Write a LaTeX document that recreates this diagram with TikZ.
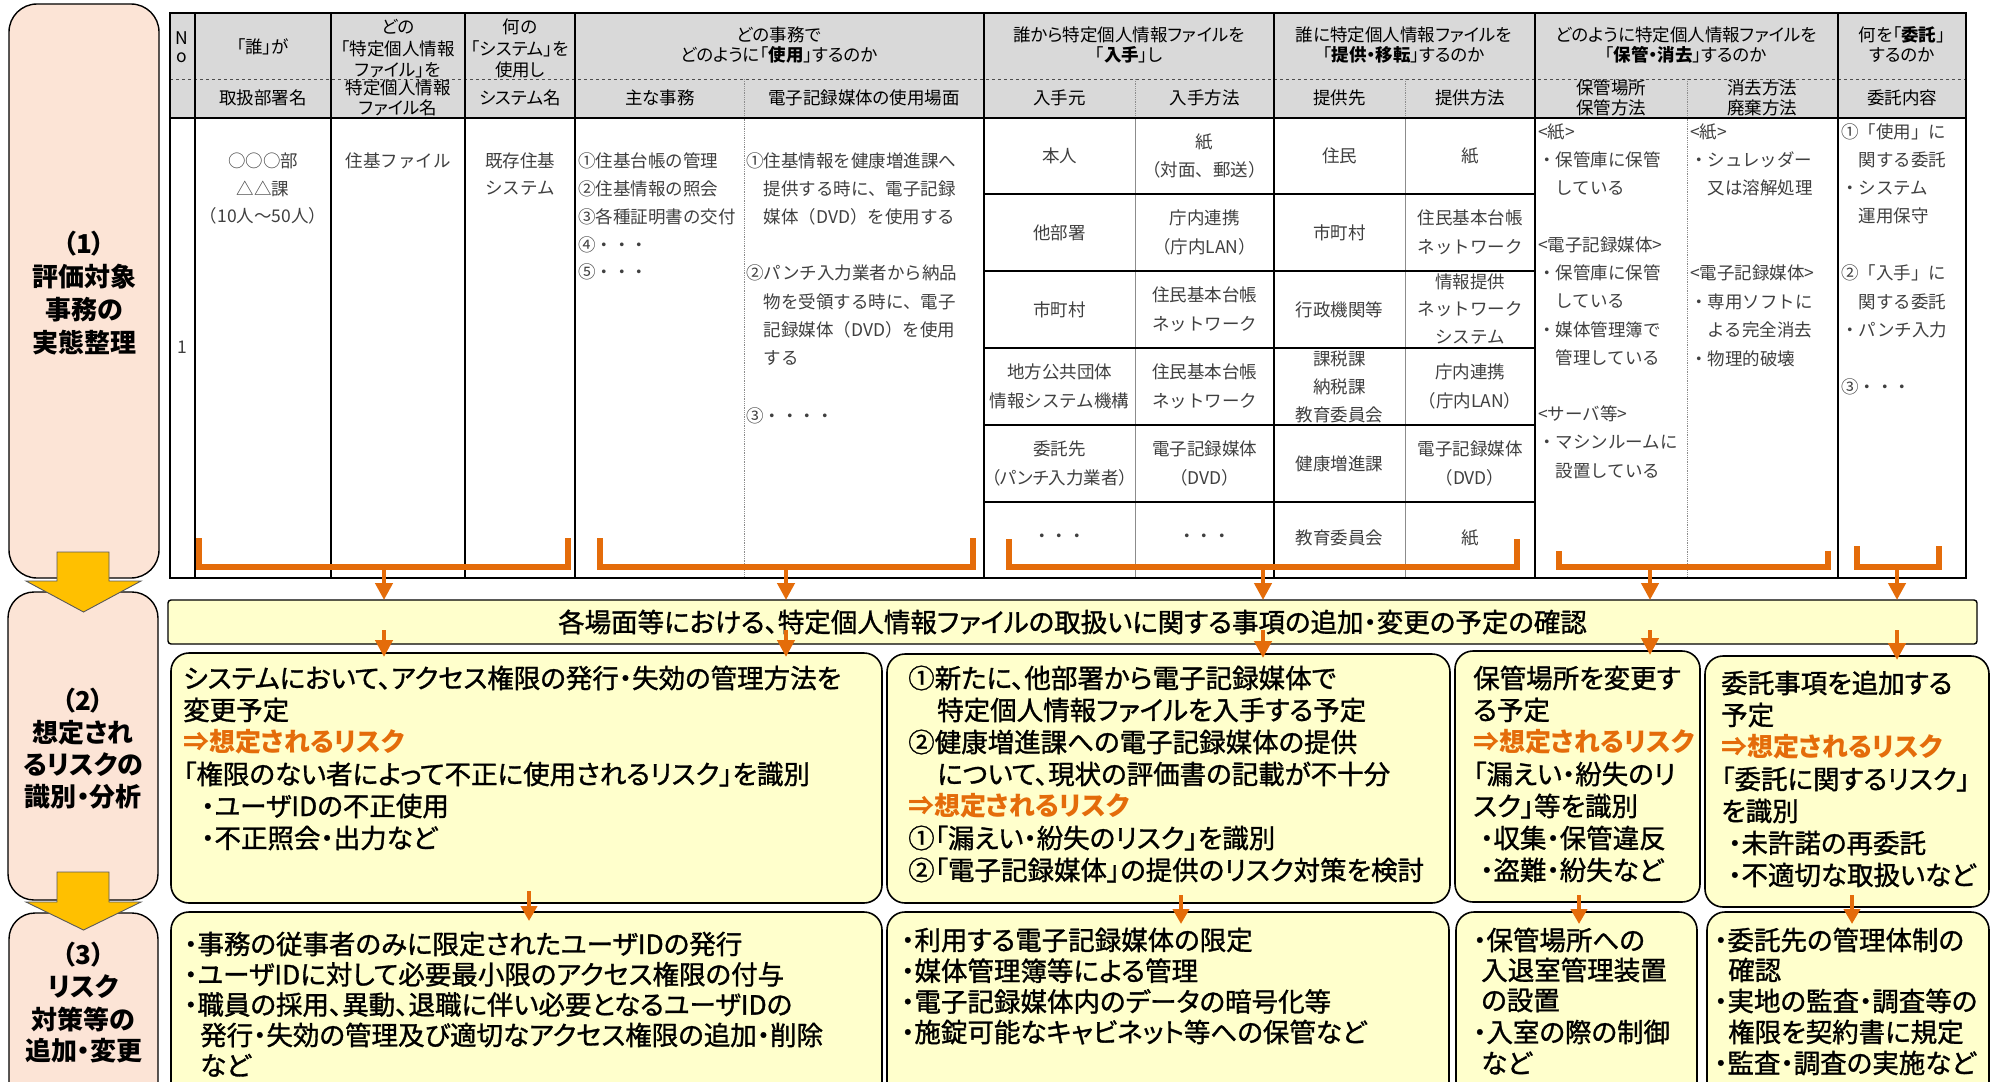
\documentclass[tikz,border=0pt]{standalone}
\usepackage{fontspec}
\setmainfont{Noto Sans CJK JP}
\newfontfamily\pfont[RawFeature=+palt]{Noto Sans CJK JP}
\newfontfamily\mfont[RawFeature=+palt,FakeBold=1.2]{Noto Sans CJK JP}
\usetikzlibrary{arrows.meta}
\definecolor{peach}{HTML}{FCE4D6}
\definecolor{lyel}{HTML}{FFFFCC}
\definecolor{org}{HTML}{E46C0A}
\definecolor{ayel}{HTML}{FFC000}
\definecolor{hgray}{HTML}{D9D9D9}
\newcommand\tlines[6]{%
  \foreach \mytext [count=\myi from 0] in {#6}
    \node[#1] (#2\myi) at (#3,{#4+#5*\myi}) {\mytext};}
\tikzset{
 tcell/.style={inner sep=0pt, font=\fontsize{17.5}{20}\selectfont, text=black!75},
 lcell/.style={tcell, anchor=west},
 hd/.style={inner sep=0pt, font=\pfont\fontsize{17.5}{20}\selectfont, text=black},
 btxt/.style={inner sep=0pt, anchor=west, font=\mfont\fontsize{26.5}{28}\selectfont, text=black},
 otxt/.style={inner sep=0pt, anchor=west, font=\pfont\bfseries\fontsize{26}{28}\selectfont, text=org},
 ltxt/.style={inner sep=0pt, font=\pfont\bfseries\fontsize{26}{28}\selectfont, text=black},
 lbox/.style={draw=black, line width=1.4pt, fill=peach, rounded corners=28pt, inner sep=0pt, outer sep=0pt},
 rbox/.style={draw=black, line width=1.6pt, fill=lyel, rounded corners=18pt, inner sep=0pt, outer sep=0pt},
 oarr/.style={draw=org, line width=4.5pt, -{Triangle[length=17pt,width=17pt]}},
 oarrs/.style={draw=org, line width=4pt, -{Triangle[length=15pt,width=16pt]}},
 brk/.style={draw=org, line width=5.5pt, line join=miter},
 yarr/.style={fill=ayel, draw=black!65, line width=0.9pt},
 mainln/.style={draw=black, line width=1.5pt},
 subln/.style={draw=black!45, line width=0.8pt, densely dotted},
}
\begin{document}
\begin{tikzpicture}[x=1pt,y=-1pt]
\useasboundingbox (0,0) rectangle (1993,1081);
\clip (0,0) rectangle (1993,1081);
\fill[white] (0,0) rectangle (1993,1081);

% ---------- table ----------
\fill[hgray] (170,13) rectangle (1966,118);
\draw[black!70, line width=0.6pt, dashed] (170,79) -- (1966,79);
\foreach \x in {744,1687} \draw[subln] (\x,79) -- (\x,578);
\foreach \x in {1135,1405} {\draw[subln] (\x,79) -- (\x,118); \draw[black!45, line width=0.7pt] (\x,118) -- (\x,578);}
\foreach \x in {195,331,465,575,984,1274,1535,1838} \draw[mainln] (\x,13) -- (\x,578);
\foreach \y in {194,271,348,425,502} \draw[mainln] (984,\y) -- (1535,\y);
\draw[mainln] (170,118) -- (1966,118);
\draw[black, line width=2.2pt] (170,13) rectangle (1966,578);

% header row 1
\node[hd] (hN) at (182,38) {N};
\node[hd] (ho) at (182,58) {o};
\node[hd] (h1) at (263,47) {「誰」が};
\tlines{hd}{h2}{398}{27}{21.5}{どの,「特定個人情報,ファイル」を}
\tlines{hd}{h3}{520}{27}{21.5}{何の,「システム」を,使用し}
\tlines{hd}{h4}{779}{35}{20}{どの事務で,どのように「\textbf{使用}」するのか}
\tlines{hd}{h5}{1129}{35}{20}{誰から特定個人情報ファイルを,「\textbf{入手}」し}
\tlines{hd}{h6}{1404}{35}{20}{誰に特定個人情報ファイルを,「\textbf{提供・移転}」するのか}
\tlines{hd}{h7}{1686}{35}{20}{どのように特定個人情報ファイルを,「\textbf{保管・消去}」するのか}
\tlines{hd}{h8}{1902}{35}{20}{何を「\textbf{委託}」,するのか}
% header row 2
\node[hd] (k1) at (263,98) {取扱部署名};
\tlines{hd}{k2}{398}{88}{20}{特定個人情報,ファイル名}
\node[hd] (k3) at (520,98) {システム名};
\node[hd] (k4) at (660,98) {主な事務};
\node[hd] (k5) at (864,98) {電子記録媒体の使用場面};
\node[hd] (k6) at (1059.5,98) {入手元};
\node[hd] (k7) at (1204.5,98) {入手方法};
\node[hd] (k8) at (1339.5,98) {提供先};
\node[hd] (k9) at (1470,98) {提供方法};
\tlines{hd}{k10}{1611}{88}{20}{保管場所,保管方法}
\tlines{hd}{k11}{1762}{88}{20}{消去方法,廃棄方法}
\node[hd] (k12) at (1902,98) {委託内容};

% body
\node[tcell] (n1) at (182,347) {1};
\tlines{tcell}{c1}{263}{161}{27.5}{○○○部,△△課,（10人～50人）}
\node[tcell] (c2) at (398,161) {住基ファイル};
\tlines{tcell}{c3}{520}{161}{27.5}{既存住基,システム}
\tlines{lcell}{c4}{578}{161}{27.8}{①住基台帳の管理,②住基情報の照会,③各種証明書の交付,④・・・,⑤・・・}
\tlines{lcell}{c5a}{746}{161}{27.8}{①住基情報を健康増進課へ,　提供する時に、電子記録,　媒体（DVD）を使用する}
\tlines{lcell}{c5b}{746}{273}{28.5}{②パンチ入力業者から納品,　物を受領する時に、電子,　記録媒体（DVD）を使用,　する}
\node[lcell] (c5c) at (746,416) {③・・・・};

\node[tcell] (ia1) at (1059.5,156) {本人};
\node[tcell] (ia2) at (1059.5,232.5) {他部署};
\node[tcell] (ia3) at (1059.5,309.5) {市町村};
\tlines{tcell}{ia4}{1059.5}{372.25}{28.5}{地方公共団体,情報システム機構}
\tlines{tcell}{ia5}{1059.5}{449.25}{28.5}{委託先,{\pfont （パンチ入力業者）}}
\node[tcell] (ia6) at (1059.5,538) {・・・};

\tlines{tcell}{ib1}{1204.5}{141.75}{28.5}{紙,（対面、郵送）}
\tlines{tcell}{ib2}{1204.5}{218.25}{28.5}{庁内連携,（庁内LAN）}
\tlines{tcell}{ib3}{1204.5}{295.25}{28.5}{住民基本台帳,ネットワーク}
\tlines{tcell}{ib4}{1204.5}{372.25}{28.5}{住民基本台帳,ネットワーク}
\tlines{tcell}{ib5}{1204.5}{449.25}{28.5}{電子記録媒体,（DVD）}
\node[tcell] (ib6) at (1204.5,538) {・・・};

\node[tcell] (pa1) at (1339.5,156) {住民};
\node[tcell] (pa2) at (1339.5,232.5) {市町村};
\node[tcell] (pa3) at (1339.5,309.5) {行政機関等};
\tlines{tcell}{pa4}{1339.5}{358.5}{28}{課税課,納税課,教育委員会}
\node[tcell] (pa5) at (1339.5,463.5) {健康増進課};
\node[tcell] (pa6) at (1339.5,538) {教育委員会};

\node[tcell] (pb1) at (1470,156) {紙};
\tlines{tcell}{pb2}{1470}{218.25}{28.5}{住民基本台帳,ネットワーク}
\tlines{tcell}{pb3}{1470}{281.5}{28}{情報提供,ネットワーク,システム}
\tlines{tcell}{pb4}{1470}{372.25}{28.5}{庁内連携,（庁内LAN）}
\tlines{tcell}{pb5}{1470}{449.25}{28.5}{電子記録媒体,（DVD）}
\node[tcell] (pb6) at (1470,538) {紙};

\tlines{lcell}{ka}{1538}{132}{28}{<紙>,・保管庫に保管,　している}
\tlines{lcell}{kb}{1538}{245}{28.2}{<電子記録媒体>,・保管庫に保管,　している,・媒体管理簿で,　管理している}
\tlines{lcell}{kc}{1538}{414}{28.5}{<サーバ等>,・マシンルームに,　設置している}
\tlines{lcell}{sa}{1690}{132}{28}{<紙>,・シュレッダー,　又は溶解処理}
\tlines{lcell}{sb}{1690}{273}{28.5}{<電子記録媒体>,・専用ソフトに,　よる完全消去,・物理的破壊}
\tlines{lcell}{ia}{1841}{132}{28}{①「使用」に,　関する委託,・システム,　運用保守}
\tlines{lcell}{ib}{1841}{273}{28.5}{②「入手」に,　関する委託,・パンチ入力}
\node[lcell] (ic) at (1841,387) {③・・・};

% ---------- brackets ----------
\draw[brk] (199,538) -- (199,567) -- (568,567) -- (568,538);
\draw[brk] (600,538) -- (600,567) -- (973,567) -- (973,538);
\draw[brk] (1009,539) -- (1009,567) -- (1517,567) -- (1517,539);
\draw[brk] (1559,551) -- (1559,567) -- (1828,567) -- (1828,551);
\draw[brk] (1857,546) -- (1857,567) -- (1939,567) -- (1939,546);
\coordinate (a1) at (384,567);
\coordinate (a2) at (786,567);
\coordinate (a3) at (1263,567);
\coordinate (a4) at (1650,567);
\coordinate (a5) at (1897,567);

% ---------- bar ----------
\node[draw=black, line width=1.4pt, fill=lyel, rounded corners=3pt, minimum width=1809pt, minimum height=44pt, inner sep=0pt, outer sep=0pt, font=\mfont\fontsize{26.5}{28}\selectfont] (bar) at (1072.5,622) {各場面等における、特定個人情報ファイルの取扱いに関する事項の追加・変更の予定の確認};
\foreach \i in {1,...,5} \draw[oarr] (a\i) -- (a\i |- bar.north);

% ---------- row 2 boxes ----------
\node[rbox, minimum width=711pt, minimum height=250pt] (ra) at (526.5,778) {};
\node[rbox, minimum width=563pt, minimum height=249pt] (rb) at (1168.5,778.5) {};
\node[rbox, minimum width=245pt, minimum height=251pt] (rc) at (1577.5,776.5) {};
\node[rbox, minimum width=284pt, minimum height=251pt] (rd) at (1847,781.5) {};
\draw[oarr] (384,630) coordinate (s1) -- ([yshift=-4pt]s1 |- ra.north);
\draw[oarr] (786,630) coordinate (s2) -- ([yshift=-4pt]s2 |- ra.north);
\draw[oarr] (1263,630) coordinate (s3) -- ([yshift=-4pt]s3 |- rb.north);
\draw[oarr] (1650,630) coordinate (s4) -- ([yshift=-4pt]s4 |- rc.north);
\draw[oarr] (1897,630) coordinate (s5) -- ([yshift=-4pt]s5 |- rd.north);

\tlines{btxt}{ta}{183}{678}{32}{システムにおいて、アクセス権限の発行・失効の管理方法を,変更予定}
\node[otxt] (ta2) at (183,742) {⇒想定されるリスク};
\node[btxt] (ta3) at (183,774) {「権限のない者によって不正に使用されるリスク」を識別};
\tlines{btxt}{ta4}{201}{806}{32}{・ユーザIDの不正使用,・不正照会・出力など}

\node[btxt] (tb0) at (908,678) {①新たに、他部署から電子記録媒体で};
\node[btxt] (tb1) at (937,710) {特定個人情報ファイルを入手する予定};
\node[btxt] (tb2) at (908,742) {②健康増進課への電子記録媒体の提供};
\node[btxt] (tb3) at (937,774) {について、現状の評価書の記載が不十分};
\node[otxt] (tb4) at (908,806) {⇒想定されるリスク};
\tlines{btxt}{tb5}{908}{838}{32}{①「漏えい・紛失のリスク」を識別,②「電子記録媒体」の提供のリスク対策を検討}

\tlines{btxt}{tc}{1473}{678}{32}{保管場所を変更す,る予定}
\node[otxt] (tc2) at (1473,742) {⇒想定されるリスク};
\tlines{btxt}{tc3}{1473}{774}{32}{「漏えい・紛失のリ,スク」等を識別}
\tlines{btxt}{tc5}{1480}{838}{32}{・収集・保管違反,・盗難・紛失など}

\tlines{btxt}{td}{1721}{683}{32}{委託事項を追加する,予定}
\node[otxt] (td2) at (1721,747) {⇒想定されるリスク};
\tlines{btxt}{td3}{1721}{779}{32}{「委託に関するリスク」,を識別}
\tlines{btxt}{td5}{1728}{843}{32}{・未許諾の再委託,・不適切な取扱いなど}

% ---------- row 3 boxes ----------
\node[rbox, minimum width=711pt, minimum height=220pt] (ua) at (526.5,1022) {};
\node[rbox, minimum width=562pt, minimum height=220pt] (ub) at (1168,1022) {};
\node[rbox, minimum width=241pt, minimum height=220pt] (uc) at (1576.5,1022) {};
\node[rbox, minimum width=282pt, minimum height=220pt] (ud) at (1848,1022) {};
\draw[oarrs] (529,891) coordinate (v1) -- ([yshift=-9pt]v1 |- ua.north);
\draw[oarrs] (1181,895) coordinate (v2) -- ([yshift=-12pt]v2 |- ub.north);
\draw[oarrs] (1579,895) coordinate (v3) -- ([yshift=-12pt]v3 |- uc.north);
\draw[oarrs] (1852,895) coordinate (v4) -- ([yshift=-12pt]v4 |- ud.north);

\tlines{btxt}{wa}{184}{944}{30.3}{・事務の従事者のみに限定されたユーザIDの発行,・ユーザIDに対して必要最小限のアクセス権限の付与,・職員の採用、異動、退職に伴い必要となるユーザIDの}
\tlines{btxt}{wa3}{200}{1035}{30.3}{発行・失効の管理及び適切なアクセス権限の追加・削除,など}
\tlines{btxt}{wb}{901}{940}{30.7}{・利用する電子記録媒体の限定,・媒体管理簿等による管理,・電子記録媒体内のデータの暗号化等,・施錠可能なキャビネット等への保管など}
\node[btxt] (wc0) at (1473,940) {・保管場所への};
\tlines{btxt}{wc1}{1481}{970}{30.5}{入退室管理装置,の設置}
\node[btxt] (wc3) at (1473,1032) {・入室の際の制御};
\node[btxt] (wc4) at (1481,1063) {など};
\node[btxt] (wd0) at (1714,940) {・委託先の管理体制の};
\node[btxt] (wd1) at (1728,970) {確認};
\node[btxt] (wd2) at (1714,1001) {・実地の監査・調査等の};
\node[btxt] (wd3) at (1728,1032) {権限を契約書に規定};
\node[btxt] (wd4) at (1714,1063) {・監査・調査の実施など};

% ---------- left column ----------
\node[lbox, minimum width=150pt, minimum height=574pt] (L1) at (84,291) {};
\node[lbox, rounded corners=26pt, minimum width=150pt, minimum height=308pt] (L2) at (83,746) {};
\node[lbox, rounded corners=26pt, minimum width=149pt, minimum height=240pt] (L3) at (83.5,1033) {};
\tlines{ltxt}{l1}{84}{244}{32.7}{（1）,評価対象,事務の,実態整理}
\tlines{ltxt}{l2}{83}{701}{32}{（2）,想定され,るリスクの,識別・分析}
\tlines{ltxt}{l3}{83.5}{955}{32}{（3）,リスク,対策等の,追加・変更}
\draw[yarr] (57,552) -- (109,552) -- (109,581) -- (141,581) -- (83.5,612) -- (26,581) -- (57,581) -- cycle;
\draw[yarr] (57,872) -- (109,872) -- (109,902) -- (141,902) -- (83.5,930) -- (26,902) -- (57,902) -- cycle;
\end{tikzpicture}
\end{document}
